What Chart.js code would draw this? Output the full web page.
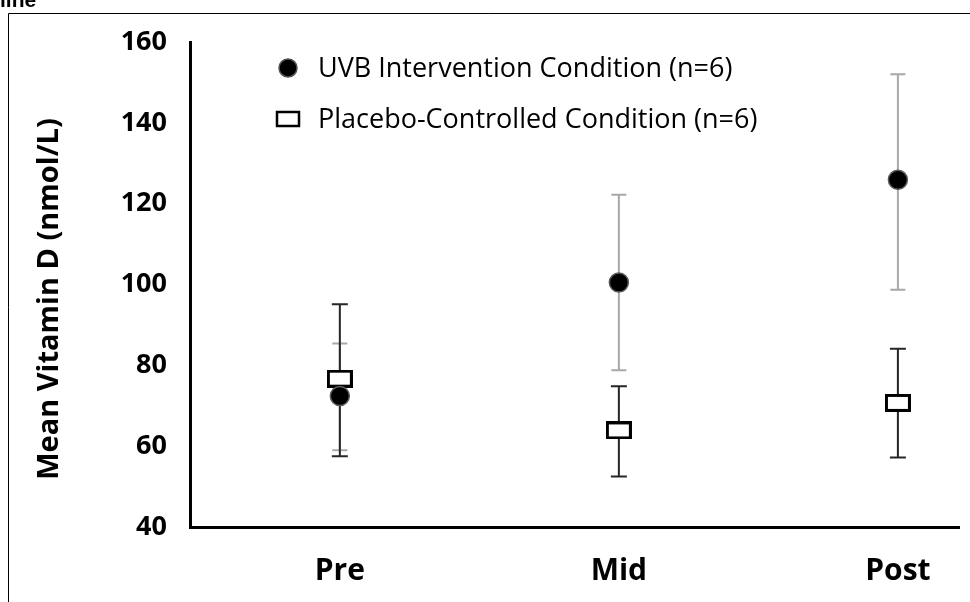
<!DOCTYPE html>
<html>
<head>
<meta charset="utf-8">
<script src="https://cdn.jsdelivr.net/npm/chart.js@4.4.1/dist/chart.umd.min.js"></script>
<style>
  html, body { margin: 0; padding: 0; background: #fff; }
  #wrap { width: 970px; height: 602px; }
</style>
</head>
<body>
<div id="wrap"><canvas id="grafico" width="970" height="602"></canvas></div>
<script>
// Datos
const categories = ['Pre', 'Mid', 'Post'];
const uvbMean = [72.4, 100.5, 125.9];
const uvbUpper = [85.4, 122.2, 152.0];
const uvbLower = [59.0, 78.8, 98.7];
const placeboMean = [76.7, 63.9, 70.7];
const placeboUpper = [95.1, 74.8, 84.1];
const placeboLower = [57.5, 52.5, 57.2];
const yTicks = [40, 60, 80, 100, 120, 140, 160];
const legendLabels = ['UVB Intervention Condition (n=6)', 'Placebo-Controlled Condition (n=6)'];
const yTitle = 'Mean Vitamin D (nmol/L)';

// Marcador rectangular blanco con borde negro
function boxMarker(w, h, lw) {
    const c = document.createElement('canvas');
    c.width = w + lw;
    c.height = h + lw;
    const g = c.getContext('2d');
    g.fillStyle = '#fff';
    g.fillRect(lw / 2, lw / 2, w, h);
    g.lineWidth = lw;
    g.strokeStyle = '#000';
    g.strokeRect(lw / 2, lw / 2, w, h);
    return c;
}

const errorBars = [
    { upper: uvbUpper, lower: uvbLower, color: '#a8a8a8', cap: 15 },
    { upper: placeboUpper, lower: placeboLower, color: '#262626', cap: 16 }
];

// Barras de error, marco y leyenda
const overlay = {
    id: 'overlay',
    beforeDatasetsDraw(chart) {
        const ctx = chart.ctx;
        const y = chart.scales.y;
        errorBars.forEach((eb, i) => {
            const meta = chart.getDatasetMeta(i);
            ctx.save();
            ctx.strokeStyle = eb.color;
            ctx.lineWidth = 2;
            meta.data.forEach((pt, j) => {
                const top = y.getPixelForValue(eb.upper[j]);
                const bot = y.getPixelForValue(eb.lower[j]);
                ctx.beginPath();
                ctx.moveTo(pt.x, top);
                ctx.lineTo(pt.x, bot);
                ctx.moveTo(pt.x - eb.cap / 2, top);
                ctx.lineTo(pt.x + eb.cap / 2, top);
                ctx.moveTo(pt.x - eb.cap / 2, bot);
                ctx.lineTo(pt.x + eb.cap / 2, bot);
                ctx.stroke();
            });
            ctx.restore();
        });
    },
    afterDraw(chart) {
        const ctx = chart.ctx;
        ctx.save();
        // marco
        ctx.strokeStyle = '#000';
        ctx.lineWidth = 1;
        ctx.beginPath();
        ctx.moveTo(8.5, 602);
        ctx.lineTo(8.5, 13.5);
        ctx.lineTo(970, 13.5);
        ctx.stroke();
        // texto recortado arriba a la izquierda
        ctx.fillStyle = '#000';
        ctx.font = 'bold 21px "Liberation Sans", Arial, sans-serif';
        ctx.textAlign = 'left';
        ctx.textBaseline = 'alphabetic';
        ctx.fillText('line', 0, 7);
        // leyenda
        ctx.font = '27px "Open Sans", sans-serif';
        ctx.textBaseline = 'middle';
        ctx.beginPath();
        ctx.arc(288, 68, 9, 0, Math.PI * 2);
        ctx.fillStyle = '#000';
        ctx.fill();
        ctx.strokeStyle = '#555';
        ctx.lineWidth = 1.5;
        ctx.stroke();
        ctx.fillStyle = '#000';
        ctx.fillText(legendLabels[0], 318, 69);
        ctx.fillStyle = '#fff';
        ctx.fillRect(277, 112, 22, 14);
        ctx.strokeStyle = '#000';
        ctx.lineWidth = 2.5;
        ctx.strokeRect(277, 112, 22, 14);
        ctx.fillStyle = '#000';
        ctx.fillText(legendLabels[1], 318, 120);
        // título eje Y
        ctx.translate(50, 299);
        ctx.rotate(-Math.PI / 2);
        ctx.textAlign = 'center';
        ctx.font = 'bold 29px "Open Sans", sans-serif';
        ctx.fillText(yTitle, 0, 0);
        ctx.restore();
    }
};

const ctxGrafico = document.getElementById('grafico').getContext('2d');
new Chart(ctxGrafico, {
    type: 'scatter',
    data: {
        datasets: [{
            label: legendLabels[0],
            data: uvbMean.map((v, i) => ({ x: i + 1, y: v })),
            pointStyle: 'circle',
            pointRadius: 9.5,
            pointHoverRadius: 9.5,
            backgroundColor: '#000',
            borderColor: '#5a5a5a',
            borderWidth: 1.5
        }, {
            label: legendLabels[1],
            data: placeboMean.map((v, i) => ({ x: i + 1, y: v })),
            pointStyle: boxMarker(23, 15, 3),
            pointRadius: 10
        }]
    },
    options: {
        responsive: false,
        maintainAspectRatio: false,
        animation: false,
        layout: { padding: { top: 42, left: 0, right: 0, bottom: 0 } },
        plugins: {
            legend: { display: false },
            tooltip: { enabled: false }
        },
        scales: {
            x: {
                type: 'linear',
                min: 0.463,
                max: 3.219,
                afterBuildTicks: axis => { axis.ticks = categories.map((c, i) => ({ value: i + 1 })); },
                afterFit: scale => { scale.height = 75; },
                grid: { display: false, drawTicks: false },
                border: { display: true, color: '#000', width: 3 },
                ticks: {
                    padding: 26,
                    color: '#000',
                    font: { family: '"Open Sans", sans-serif', size: 30, weight: 'bold' },
                    callback: v => categories[v - 1] || ''
                }
            },
            y: {
                min: 40,
                max: 160,
                afterBuildTicks: axis => { axis.ticks = yTicks.map(v => ({ value: v })); },
                afterFit: scale => { scale.width = 190; },
                grid: { display: false, drawTicks: false },
                border: { display: true, color: '#000', width: 3 },
                ticks: {
                    padding: 23,
                    color: '#000',
                    font: { family: '"Open Sans", sans-serif', size: 27, weight: 'bold' }
                }
            }
        }
    },
    plugins: [overlay]
});
</script>
</body>
</html>
